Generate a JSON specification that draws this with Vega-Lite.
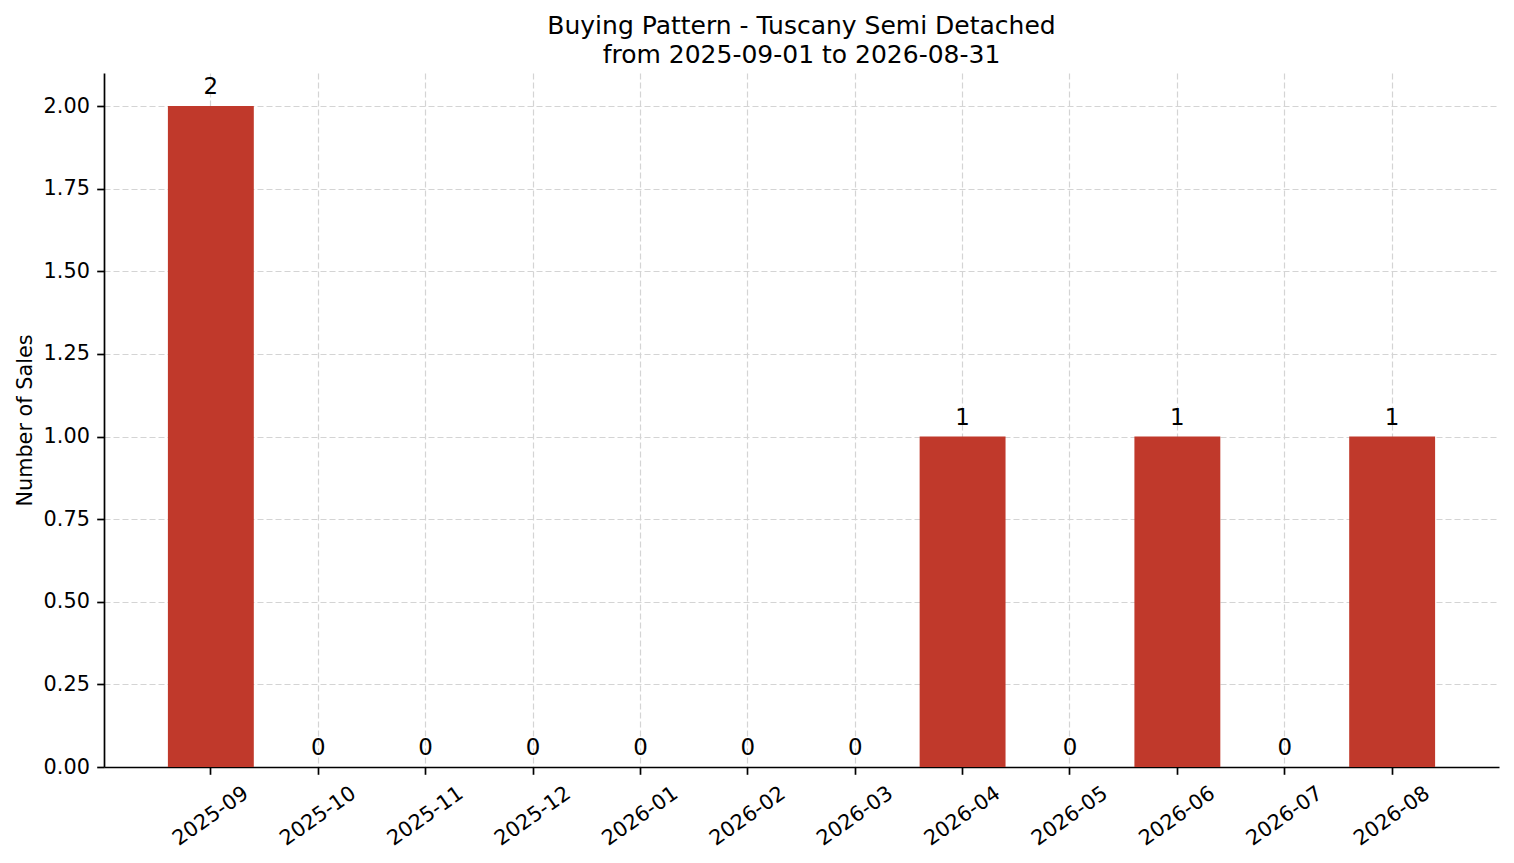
{
  "$schema": "https://vega.github.io/schema/vega-lite/v6.json",
  "width": 1395,
  "height": 694,
  "autosize": {"type": "none"},
  "padding": {"left": 104, "top": 73, "right": 15, "bottom": 96},
  "background": "white",
  "title": {
    "text": ["Buying Pattern - Tuscany Semi Detached", "from 2025-09-01 to 2026-08-31"],
    "font": "DejaVu Sans",
    "fontSize": 25,
    "fontWeight": "normal",
    "color": "black",
    "anchor": "middle",
    "frame": "group",
    "baseline": "alphabetic",
    "lineHeight": 29,
    "offset": -15
  },
  "config": {
    "view": {"stroke": null},
    "font": "DejaVu Sans",
    "axis": {
      "labelFont": "DejaVu Sans",
      "titleFont": "DejaVu Sans",
      "labelFontSize": 20.8,
      "titleFontSize": 20.8,
      "titleFontWeight": "normal",
      "labelColor": "black",
      "titleColor": "black",
      "domainColor": "black",
      "domainWidth": 1.7,
      "tickColor": "black",
      "tickWidth": 1.7,
      "tickSize": 7.3,
      "gridColor": "#d4d4d4",
      "gridWidth": 1.2,
      "gridDash": [6, 3],
      "zindex": 1
    }
  },
  "data": {
    "values": [
      {"month": "2025-09", "sales": 2},
      {"month": "2025-10", "sales": 0},
      {"month": "2025-11", "sales": 0},
      {"month": "2025-12", "sales": 0},
      {"month": "2026-01", "sales": 0},
      {"month": "2026-02", "sales": 0},
      {"month": "2026-03", "sales": 0},
      {"month": "2026-04", "sales": 1},
      {"month": "2026-05", "sales": 0},
      {"month": "2026-06", "sales": 1},
      {"month": "2026-07", "sales": 0},
      {"month": "2026-08", "sales": 1}
    ]
  },
  "encoding": {
    "x": {
      "field": "month",
      "type": "ordinal",
      "sort": null,
      "scale": {"paddingInner": 0.2, "paddingOuter": 0.595},
      "axis": {
        "title": null,
        "grid": true,
        "labelAngle": -35,
        "labelAlign": "center",
        "labelBaseline": "middle",
        "labelPadding": 41.7
      }
    },
    "y": {
      "field": "sales",
      "type": "quantitative",
      "scale": {"domain": [0, 2.1], "nice": false, "zero": true},
      "axis": {
        "title": "Number of Sales",
        "values": [0, 0.25, 0.5, 0.75, 1, 1.25, 1.5, 1.75, 2],
        "format": ".2f",
        "grid": true,
        "labelPadding": 7.3,
        "titleX": -73,
        "titleBaseline": "alphabetic",
        "titleAngle": -90
      }
    }
  },
  "layer": [
    {"mark": {"type": "bar", "color": "#c0392b"}},
    {
      "mark": {
        "type": "text",
        "baseline": "bottom",
        "align": "center",
        "dy": -6.6,
        "fontSize": 22.9,
        "font": "DejaVu Sans",
        "color": "black"
      },
      "encoding": {"text": {"field": "sales", "type": "quantitative"}}
    }
  ]
}
